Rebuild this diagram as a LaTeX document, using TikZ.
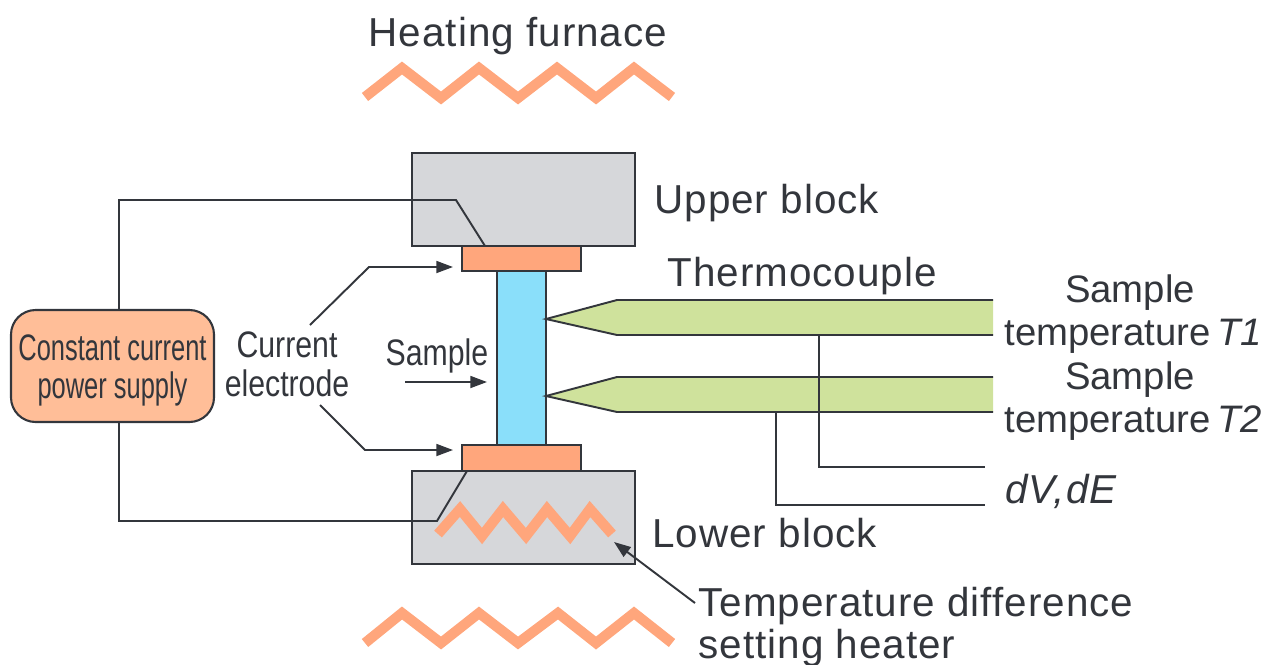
\documentclass[tikz,border=0pt]{standalone}
\usepackage{fontspec}
\setmainfont{Liberation Sans}
\newfontfamily\widefont[LetterSpace=2.5]{Liberation Sans}
\newfontfamily\narrowfont[FakeStretch=0.82]{Liberation Sans}
\newfontfamily\supplyfont[FakeStretch=0.69]{Liberation Sans}
\usepackage{xcolor}
\usepackage{tikz}
\usetikzlibrary{arrows.meta}
\definecolor{linegray}{HTML}{33363C}
\definecolor{blockgray}{HTML}{D6D7DA}
\definecolor{heatorange}{HTML}{FFA67C}
\definecolor{supplyorange}{HTML}{FFBE98}
\definecolor{sampleblue}{HTML}{8ADFFA}
\definecolor{tcgreen}{HTML}{CFE29C}
\tikzset{
  partbox/.style={draw=linegray,line width=1.2pt,inner sep=0pt},
  wire/.style={linegray,line width=1.1pt,line join=miter},
  pointer/.style={wire,-{Triangle[length=9.5pt,width=6.8pt]}},
  zigzag/.style={heatorange,line width=5.8pt,line join=miter},
  label/.style={text=linegray,font=\widefont\fontsize{23}{27}\selectfont,inner sep=0pt,anchor=base west},
  sidelabel/.style={text=linegray,font=\fontsize{21.8}{26}\selectfont,inner sep=0pt,anchor=base west},
  narrowlabel/.style={text=linegray,font=\narrowfont\fontsize{21}{25}\selectfont,inner sep=0pt,anchor=base},
  supplylabel/.style={text=linegray,font=\supplyfont\fontsize{21}{25}\selectfont,inner sep=0pt,anchor=base}
}
\begin{document}
\begin{tikzpicture}[x=0.02cm,y=-0.02cm]
  \useasboundingbox (0,0) rectangle (1277,664);
  % furnace and heater
  \draw[zigzag] (365,97) -- (402,68) -- (441,98) -- (479,68) -- (518,98) -- (557,68) -- (596,98) -- (634,68) -- (672,97);
  \draw[zigzag] (365,643) -- (402,613) -- (441,643) -- (479,613) -- (518,643) -- (558,613) -- (596,643) -- (634,613) -- (672,643);
  \node[label,anchor=base] (furnace) at (518,46) {Heating furnace};
  % blocks
  \node[partbox,fill=blockgray,minimum width=223*0.02cm,minimum height=93*0.02cm] (upper) at (523.5,199.5) {};
  \node[partbox,fill=blockgray,minimum width=223*0.02cm,minimum height=93*0.02cm] (lower) at (523.5,517.5) {};
  \node[partbox,fill=sampleblue,minimum width=49*0.02cm,minimum height=174*0.02cm] (sample) at (521.5,358) {};
  \node[partbox,fill=heatorange,minimum width=119*0.02cm,minimum height=25*0.02cm] (topel) at (521.5,258.5) {};
  \node[partbox,fill=heatorange,minimum width=119*0.02cm,minimum height=26*0.02cm] (botel) at (521.5,458) {};
  \draw[zigzag] (438,534) -- (460,509) -- (482,536) -- (503,509) -- (526,536) -- (547,509) -- (570,536) -- (590,509) -- (612,534);
  % power supply
  \node[partbox,fill=supplyorange,rounded corners=14pt,minimum width=203*0.02cm,minimum height=112*0.02cm] (supply) at (112.5,366) {};
  \node[supplylabel] (supplya) at (112.5,360) {Constant current};
  \node[supplylabel] (supplyb) at (112.5,398) {power supply};
  \draw[wire] (supply.north -| 119,0) -- (119,200) -- (456,200) -- (485,246);
  \draw[wire] (supply.south -| 119,0) -- (119,521) -- (437,521) -- (467,471);
  % thermocouples
  \coordinate (tipa) at (546,319);
  \coordinate (tipb) at (546,396);
  \fill[tcgreen] (tipa) -- (617,300) -- (993,300) -- (993,335) -- (617,335) -- cycle;
  \fill[tcgreen] (tipb) -- (617,377) -- (993,377) -- (993,412) -- (617,412) -- cycle;
  \draw[wire] (993,300) -- (617,300) -- (tipa) -- (617,335) -- (993,335);
  \draw[wire] (993,377) -- (617,377) -- (tipb) -- (617,412) -- (993,412);
  \coordinate (enda) at (985,467);
  \coordinate (endb) at (985,505);
  \draw[wire] (819,335) -- (819,467) -- (enda);
  \draw[wire] (776,412) -- (776,505) -- (endb);
  % labels
  \node[label] (uppertext) at (654,213) {Upper block};
  \node[label] (lowertext) at (652,547) {Lower block};
  \node[label] (tctext) at (667,286) {Thermocouple};
  \node[sidelabel,anchor=base] (sone) at (1130,302) {Sample};
  \node[sidelabel] (tone) at (1004,345) {temperature\,\textit{T1}};
  \node[sidelabel,anchor=base] (stwo) at (1130,389) {Sample};
  \node[sidelabel] (ttwo) at (1004,432) {temperature\,\textit{T2}};
  \node[label] (dvde) at (1005,503) {\textit{dV,dE}};
  \node[label] (difftext) at (698,616) {Temperature difference};
  \node[label] (settext) at (698,658) {setting heater};
  \node[narrowlabel] (curtext) at (287,357) {Current};
  \node[narrowlabel] (eltext) at (287,396) {electrode};
  \node[narrowlabel] (samtext) at (437,365) {Sample};
  % pointers
  \draw[pointer] (310,325) -- (369,267) -- (453,267);
  \draw[pointer] (320,405) -- (365,450) -- (453,450);
  \draw[pointer] (405,382) -- (487,382);
  \draw[pointer] (695,603) -- (614,542);
\end{tikzpicture}
\end{document}
